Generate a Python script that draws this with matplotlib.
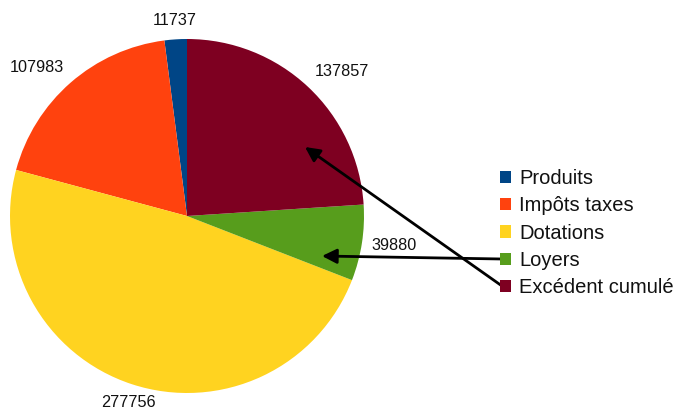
import matplotlib.pyplot as plt

# donnees
categories = ["Produits", "Impôts taxes", "Dotations", "Loyers", "Excédent cumulé"]
values = [11737, 107983, 277756, 39880, 137857]
colors = ["#004586", "#ff420e", "#ffd320", "#579d1c", "#7e0021"]

W, H = 678, 415
plt.rcParams['font.family'] = ['Liberation Sans', 'DejaVu Sans']

fig = plt.figure(figsize=(W / 100, H / 100), dpi=100)
ax = fig.add_axes([0, 0, 1, 1])

cx, cy, r = 187, H - 216, 177
wedges, texts = ax.pie(values, colors=colors, startangle=90, counterclock=True,
                       center=(cx, cy), radius=r, labels=[str(v) for v in values],
                       labeldistance=1.12, textprops={'fontsize': 11.7, 'color': '#111111'},
                       wedgeprops={'linewidth': 0})
ax.set_xlim(0, W)
ax.set_ylim(0, H)
ax.set_aspect('auto')
ax.axis('off')

# positions des etiquettes (pixels)
label_pos = [(175, 21), (37, 67), (128, 402), (394, 245), (342, 71)]
for t, (x, y) in zip(texts, label_pos):
    t.set_position((x, H - y))
    t.set_ha('center')
    t.set_va('center')

leg = ax.legend(wedges, categories, loc='upper left', bbox_to_anchor=(492 / W, 1 - 161 / H),
                frameon=False, fontsize=14.5, handlelength=0.55, handleheight=0.55,
                handletextpad=0.4, labelspacing=0.41, borderaxespad=0)
for t in leg.get_texts():
    t.set_color('#111111')

# fleches du legende vers les parts
arrows = [((502, 259), (322, 256)), ((502, 286), (305, 147))]
for (x0, y0), (x1, y1) in arrows:
    ax.annotate("", xy=(x1, H - y1), xytext=(x0, H - y0),
                arrowprops=dict(arrowstyle='-|>', color='black', lw=2,
                                mutation_scale=22, shrinkA=0, shrinkB=0))

fig.savefig("out.png", dpi=100)
